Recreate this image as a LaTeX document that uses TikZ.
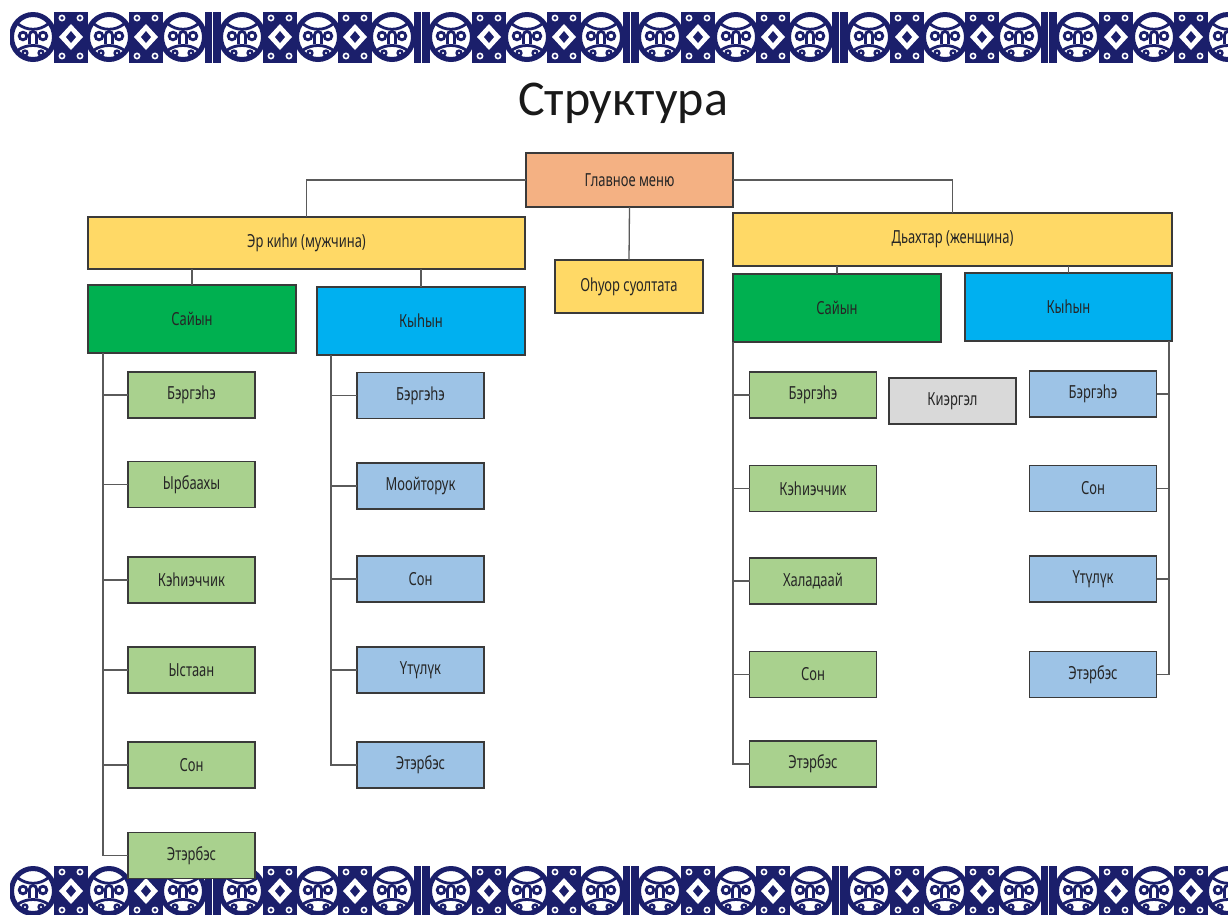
\documentclass[tikz,border=0pt]{standalone}
\usepackage{fontspec}
\newfontfamily\nodefont{Noto Sans}[FakeStretch=0.72]
\newfontfamily\titlefont{Carlito}
\definecolor{navy}{HTML}{1B1F6B}
\definecolor{cmenu}{HTML}{F4B183}
\definecolor{cyel}{HTML}{FFD966}
\definecolor{cdg}{HTML}{00B050}
\definecolor{cblue}{HTML}{00B0F0}
\definecolor{clg}{HTML}{A9D18E}
\definecolor{clb}{HTML}{9DC3E6}
\definecolor{cgrey}{HTML}{D9D9D9}
\definecolor{cborder}{HTML}{3A3A3A}
\definecolor{cline}{HTML}{5A5A5A}
\newcommand\orncirc[2]{%
  \fill[white] (#1,#2) ellipse (22 and 23);
  \draw[navy,line width=5] (#1,#2) ellipse (21.5 and 22.5);
  \draw[navy,line width=2.8] ({#1-10},{#2-1}) circle (3.8);
  \draw[navy,line width=2.8] ({#1+10},{#2-1}) circle (3.8);
  \draw[navy,line width=2.8] ({#1-3.5},{#2+7}) -- ({#1-3.5},{#2-2}) arc (180:360:3.5) -- ({#1+3.5},{#2+7});
  \draw[navy,line width=2.8] ({#1-15},{#2-13}) .. controls ({#1-6},{#2-6}) and ({#1+6},{#2-6}) .. ({#1+15},{#2-13});
  \draw[navy,line width=2.8] ({#1-15},{#2+13}) .. controls ({#1-6},{#2+7}) and ({#1+6},{#2+7}) .. ({#1+15},{#2+13});
  \draw[navy,line width=2.4] ({#1-8},{#2+16}) circle (2.4);
  \draw[navy,line width=2.4] ({#1+8},{#2+16}) circle (2.4);
}
\newcommand\orndia[2]{%
  \fill[navy] ({#1-17},{#2-26}) rectangle ({#1+17},{#2+26});
  \fill[white] ({#1-12},{#2}) -- ({#1},{#2-13}) -- ({#1+12},{#2}) -- ({#1},{#2+13}) -- cycle;
  \fill[navy] ({#1-5},{#2}) -- ({#1},{#2-6}) -- ({#1+5},{#2}) -- ({#1},{#2+6}) -- cycle;
  \draw[white,line width=1.6] ({#1-9},{#2-19}) circle (2.6);
  \draw[white,line width=1.6] ({#1+9},{#2-19}) circle (2.6);
  \draw[white,line width=1.6] ({#1-9},{#2+19}) circle (2.6);
  \draw[white,line width=1.6] ({#1+9},{#2+19}) circle (2.6);
}
\newcommand\ornsep[2]{%
  \fill[navy] ({#1-8},{#2-26}) rectangle ({#1+8},{#2+26});
  \draw[white,line width=1.8] (#1,{#2-26}) -- (#1,{#2+26});
}
\newcommand\ornband[1]{%
  \begin{scope}
    \clip (10,{#1-25}) rectangle (1228,{#1+25});
    \foreach \k in {0,...,5}{%
      \pgfmathsetmacro\gx{209*\k}
      \orndia{\gx+71}{#1}
      \orndia{\gx+146}{#1}
      \ornsep{\gx+212.5}{#1}
    }
    \foreach \k in {0,...,5}{%
      \pgfmathsetmacro\gx{209*\k}
      \orncirc{\gx+33}{#1}
      \orncirc{\gx+109}{#1}
      \orncirc{\gx+183}{#1}
    }
  \end{scope}
}
\begin{document}
\begin{tikzpicture}[x=1pt,y=-1pt,
  box/.style={draw=cborder,line width=1.1pt,inner sep=0pt,outer sep=0pt,
    text=black!85,font=\nodefont\fontsize{18}{20}\selectfont},
  big/.style={box,minimum width=208pt,minimum height=68pt},
  leaf/.style={box,minimum width=127pt,minimum height=46pt},
  conn/.style={draw=cline,line width=1.3pt}]
\useasboundingbox (0,0) rectangle (1228,914);
\fill[white] (0,0) rectangle (1228,914);
\ornband{37}
\ornband{891}
\node[font=\titlefont\fontsize{50}{54}\selectfont,text=black!90] (title) at (623,103) {Структура};

\node[box,fill=cmenu,minimum width=207pt,minimum height=54pt] (menu) at (629.5,180) {Главное меню};
\node[box,fill=cyel,minimum width=437pt,minimum height=52pt] (erk) at (306.5,243) {Эр киһи (мужчина)};
\node[box,fill=cyel,minimum width=439pt,minimum height=53pt] (dah) at (952.5,239.5) {Дьахтар (женщина)};
\node[box,fill=cyel,minimum width=148pt,minimum height=53pt] (ohu) at (629,286.5) {Оһуор суолтата};

\node[big,fill=cdg] (sayL) at (192,319) {Сайын};
\node[big,fill=cblue] (kyhL) at (421,321) {Кыһын};
\node[big,fill=cdg] (sayR) at (837,308) {Сайын};
\node[big,fill=cblue,minimum width=207pt] (kyhR) at (1068.5,307) {Кыһын};

\node[leaf,fill=clg] (lg1) at (191.5,395) {Бэргэһэ};
\node[leaf,fill=clg] (lg2) at (191.5,484.5) {Ырбаахы};
\node[leaf,fill=clg] (lg3) at (191.5,580) {Кэһиэччик};
\node[leaf,fill=clg] (lg4) at (191.5,670) {Ыстаан};
\node[leaf,fill=clg] (lg5) at (191.5,765) {Сон};
\node[leaf,fill=clg] (lg6) at (191.5,855.5) {Этэрбэс};

\node[leaf,fill=clb] (lb1) at (420.5,395.5) {Бэргэһэ};
\node[leaf,fill=clb] (lb2) at (420.5,486) {Моойторук};
\node[leaf,fill=clb] (lb3) at (420.5,579) {Сон};
\node[leaf,fill=clb] (lb4) at (420.5,670) {Үтүлүк};
\node[leaf,fill=clb] (lb5) at (420.5,765) {Этэрбэс};

\node[leaf,fill=clg] (rg1) at (813,395) {Бэргэһэ};
\node[leaf,fill=clg] (rg2) at (813,488.5) {Кэһиэччик};
\node[leaf,fill=clg] (rg3) at (813,581) {Халадаай};
\node[leaf,fill=clg] (rg4) at (813,674.5) {Сон};
\node[leaf,fill=clg] (rg5) at (813,764) {Этэрбэс};

\node[leaf,fill=cgrey] (kie) at (952.5,401) {Киэргэл};

\node[leaf,fill=clb] (rb1) at (1093,394) {Бэргэһэ};
\node[leaf,fill=clb] (rb2) at (1093,488.5) {Сон};
\node[leaf,fill=clb] (rb3) at (1093,579) {Үтүлүк};
\node[leaf,fill=clb] (rb4) at (1093,674.5) {Этэрбэс};

% top-level connectors
\draw[conn] (menu.west) -| (erk.north);
\draw[conn] (menu.east) -| (dah.north);
\draw[conn] (menu.south) -- (ohu.north);
\draw[conn] (erk.south -| sayL.north) -- (sayL.north);
\draw[conn] (erk.south -| kyhL.north) -- (kyhL.north);
\draw[conn] (dah.south -| sayR.north) -- (sayR.north);
\draw[conn] (dah.south -| kyhR.north) -- (kyhR.north);

% trunks
\coordinate (tL1) at ([xshift=15pt]sayL.south west);
\coordinate (tL2) at ([xshift=14pt]kyhL.south west);
\coordinate (tR1) at (sayR.south west);
\coordinate (tR2) at ([xshift=-3pt]kyhR.south east);
\foreach \c in {lg1,lg2,lg3,lg4,lg5,lg6}{\draw[conn] (tL1) |- (\c.west);}
\foreach \c in {lb1,lb2,lb3,lb4,lb5}{\draw[conn] (tL2) |- (\c.west);}
\foreach \c in {rg1,rg2,rg3,rg4,rg5}{\draw[conn] (tR1) |- (\c.west);}
\foreach \c in {rb1,rb2,rb3,rb4}{\draw[conn] (tR2) |- (\c.east);}
\end{tikzpicture}
\end{document}
